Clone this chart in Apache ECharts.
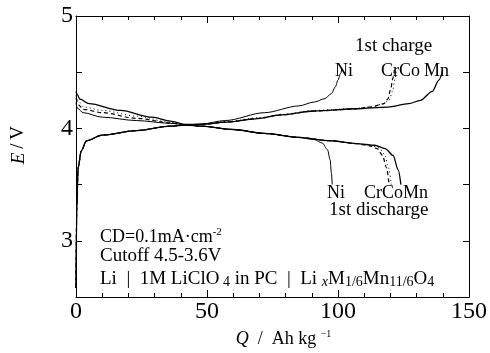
<!DOCTYPE html>
<html>
<head>
<meta charset="utf-8">
<script src="https://cdn.jsdelivr.net/npm/echarts@6/dist/echarts.min.js"></script>
<style>html,body{margin:0;padding:0;background:#fff}#c{width:490px;height:353px}</style>
</head>
<body>
<div id="c"></div>
<script>
// ---- data (Q / Ah kg-1, E / V) ----
var xTicks = [0, 50, 100, 150];
var yTickLabels = [3, 4, 5];
var chargeNi = [[0,4.23],[0.5,4.18],[2.7,4.14],[10,4.10],[23,4.07],[36,4.045],[42,4.03],[48,4.04],[57,4.07],[72,4.14],[85,4.20],[91,4.235],[95,4.265],[97.5,4.31],[99,4.37],[100,4.43],[101,4.49],[101.5,4.53]];
var chargeCr = [[0,4.27],[1,4.21],[2.7,4.17],[10,4.14],[23,4.09],[36,4.05],[42,4.03],[48,4.035],[57,4.055],[70,4.09],[78.5,4.12],[91,4.155],[105,4.17],[112.5,4.19],[117.5,4.22],[119,4.26],[120,4.34],[121,4.45],[121.5,4.52]];
var chargeCo = [[0,4.29],[1,4.24],[3,4.19],[10,4.16],[23,4.11],[36,4.055],[42,4.035],[48,4.035],[57,4.06],[70,4.095],[78.5,4.125],[91,4.16],[105,4.175],[112.5,4.19],[117,4.215],[119.5,4.25],[120.8,4.33],[121.8,4.44],[122.3,4.52]];
var chargeMn = [[0,4.33],[0.5,4.30],[1.5,4.26],[5,4.22],[17,4.16],[29,4.10],[36,4.065],[42,4.035],[48,4.035],[57,4.055],[68.5,4.085],[78.5,4.12],[91,4.155],[107,4.175],[119,4.19],[127,4.22],[131.5,4.25],[136,4.33],[138.5,4.43],[140,4.52]];
var dischargeNi = [[0,2.58],[0.3,3.3],[0.8,3.65],[2,3.80],[4,3.89],[10,3.94],[23,3.98],[36,4.02],[42,4.03],[48,4.02],[60,3.99],[72,3.955],[85,3.92],[91,3.90],[94,3.87],[96,3.81],[97,3.72],[97.5,3.6],[97.8,3.5]];
var dischargeCr = [[0,2.58],[0.3,3.3],[0.8,3.65],[2,3.80],[4,3.89],[10,3.94],[23,3.98],[36,4.02],[42,4.03],[48,4.02],[60,3.99],[72,3.955],[85,3.92],[97,3.89],[107,3.865],[112,3.845],[115,3.82],[117,3.76],[118.5,3.65],[119.5,3.5]];
var dischargeCo = [[0,2.58],[0.3,3.3],[0.8,3.65],[2,3.80],[4,3.89],[10,3.94],[23,3.98],[36,4.02],[42,4.03],[48,4.02],[60,3.99],[72,3.955],[85,3.92],[97,3.89],[107,3.865],[112,3.85],[115.5,3.83],[117.8,3.77],[119.3,3.65],[120.3,3.5]];
var dischargeMn = [[0,2.58],[0.3,3.3],[0.8,3.65],[2,3.80],[4,3.89],[10,3.94],[23,3.98],[36,4.02],[42,4.03],[48,4.02],[60,3.99],[72,3.955],[85,3.92],[97,3.89],[107,3.865],[114,3.85],[118,3.82],[121,3.76],[123,3.63],[124,3.5]];

var serif = 'Liberation Serif';
function line(data, w, type) {
  return { type: 'line', data: data, showSymbol: false, smooth: 0.3, smoothMonotone: 'x',
    lineStyle: { color: '#000', width: w, type: type }, silent: true, z: 3 };
}
var chart = echarts.init(document.getElementById('c'));
var axisCommon = {
  axisLine: { show: true, onZero: false, lineStyle: { color: '#000', width: 1 } },
  splitLine: { show: false }
};
chart.setOption({
  animation: false,
  backgroundColor: '#fff',
  grid: { left: 76, right: 18, top: 16, bottom: 56 },
  xAxis: [
    Object.assign({ type: 'value', min: 0, max: 150, interval: 50, position: 'bottom',
      axisTick: { inside: true, length: 7, lineStyle: { color: '#000' } },
      minorTick: { show: true, splitNumber: 5, length: 4, lineStyle: { color: '#000' } },
      axisLabel: { color: '#000', fontFamily: serif, fontSize: 24, margin: 3 },
      name: '{i|Q}  /  Ah kg {s|−1}', nameLocation: 'middle', nameGap: 32,
      nameTextStyle: { color: '#000', fontFamily: serif, fontSize: 18, padding: [0, 0, 0, 22],
        rich: { i: { fontFamily: serif, fontStyle: 'italic', fontSize: 18, color: '#000' },
                s: { fontFamily: serif, fontSize: 10, color: '#000', verticalAlign: 'top', padding: [0,0,10,0] } } }
    }, axisCommon),
    Object.assign({ type: 'value', min: 0, max: 150, interval: 50, position: 'top',
      axisTick: { inside: true, length: 7, lineStyle: { color: '#000' } },
      minorTick: { show: true, splitNumber: 5, length: 4, lineStyle: { color: '#000' } },
      axisLabel: { show: false } }, axisCommon)
  ],
  yAxis: [
    Object.assign({ type: 'value', min: 2.5, max: 5, interval: 0.5, position: 'left',
      axisTick: { inside: true, length: 6, lineStyle: { color: '#000' } },
      axisLabel: { color: '#000', fontFamily: serif, fontSize: 24, margin: 3,
        formatter: function (v) { return yTickLabels.indexOf(v) >= 0 ? String(v) : ''; } } }, axisCommon),
    Object.assign({ type: 'value', min: 2.5, max: 5, interval: 0.5, position: 'right',
      axisTick: { inside: true, length: 6, lineStyle: { color: '#000' } },
      axisLabel: { show: false } }, axisCommon)
  ],
  series: [
    line(chargeNi, 1, 'solid'),
    line(chargeCr, 1.2, [4, 3]),
    line(chargeCo, 1, [1, 3]),
    line(chargeMn, 1.3, 'solid'),
    line(dischargeNi, 1, 'solid'),
    line(dischargeCr, 1.2, [4, 3]),
    line(dischargeCo, 1, [1, 3]),
    line(dischargeMn, 1.3, 'solid')
  ],
  graphic: [
    { type: 'text', left: 9, top: 126, rotation: Math.PI / 2, style: {
      text: '{i|E}\u2009/\u2009V', fill: '#000', font: '19px ' + serif,
      rich: { i: { fontStyle: 'italic', fontFamily: serif, fontSize: 19, fill: '#000' } } } },
    { type: 'text', x: 355, y: 37, style: { text: '1st charge', fill: '#000', font: '19px ' + serif } },
    { type: 'text', x: 335, y: 62, style: { text: 'Ni', fill: '#000', font: '18px ' + serif } },
    { type: 'text', x: 381, y: 62, style: { text: 'CrCo', fill: '#000', font: '18px ' + serif } },
    { type: 'text', x: 424, y: 62, style: { text: 'Mn', fill: '#000', font: '18px ' + serif } },
    { type: 'text', x: 327, y: 184, style: { text: 'Ni', fill: '#000', font: '18px ' + serif } },
    { type: 'text', x: 364, y: 184, style: { text: 'CrCoMn', fill: '#000', font: '18px ' + serif } },
    { type: 'text', x: 329, y: 201, style: { text: '1st discharge', fill: '#000', font: '19px ' + serif } },
    { type: 'text', x: 100, y: 227, style: { text: 'CD=0.1mA·cm{sup|-2}', fill: '#000', font: '18px ' + serif,
      rich: { sup: { fontSize: 11, fontFamily: serif, fill: '#000', verticalAlign: 'top', padding: [0,0,10,0] } } } },
    { type: 'text', x: 100, y: 247, style: { text: 'Cutoff 4.5-3.6V', fill: '#000', font: '19px ' + serif } },
    { type: 'text', x: 100, y: 269, style: {
      text: 'Li  |  1M LiClO{sub| 4} in PC  |  Li {subi|x}M{sub|1/6}Mn{sub|11/6}O{sub|4}', fill: '#000', font: '19px ' + serif,
      rich: { sub: { fontSize: 14, fontFamily: serif, fill: '#000', verticalAlign: 'bottom', padding: [6,0,0,0] },
              subi: { fontSize: 14, fontStyle: 'italic', fontFamily: serif, fill: '#000', verticalAlign: 'bottom', padding: [6,0,0,0] } } } }
  ]
});
</script>
</body>
</html>
